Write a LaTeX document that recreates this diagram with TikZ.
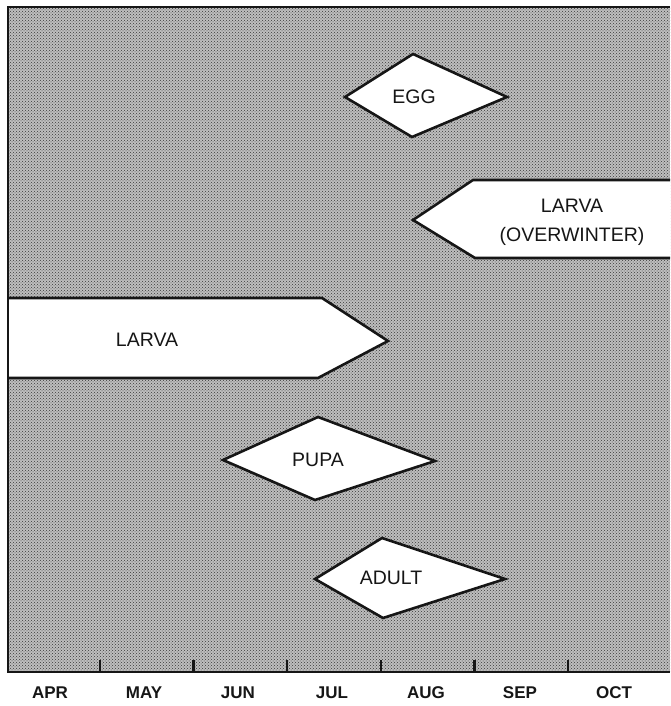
\documentclass[tikz,border=0pt]{standalone}
\usepackage{fontspec}
\setmainfont{Liberation Sans}
\usetikzlibrary{patterns}
\definecolor{paper}{RGB}{190,190,190}
\definecolor{ink}{RGB}{22,22,22}

\begin{document}
\begin{tikzpicture}[x=1pt,y=-1pt,
	stage/.style={draw=ink,fill=white,line width=2.6pt,line join=miter},
	lab/.style={color=ink,font=\fontsize{19.5}{29}\selectfont},
	month/.style={color=ink,font=\bfseries\fontsize{17}{20}\selectfont}]
	\useasboundingbox (0,0) rectangle (670,706);
	\fill[color=paper] (8,7) rectangle (670,672);
	\fill[pattern=crosshatch dots,pattern color=ink!85] (8,7) rectangle (670,672);
	
	\draw[stage] (345,97) -- (413,54) -- (507,97) -- (412,137) -- cycle;
	\node[lab] (egg) at (414,97) {EGG};
	
	\draw[stage] (670,180) -- (473,180) -- (413,220) -- (475,258) -- (670,258);
	\node[lab,align=center] (larvaow) at (572,222) {LARVA\\(OVERWINTER)};
	
	\draw[stage] (8,298) -- (322,298) -- (388,341) -- (318,378) -- (8,378);
	\node[lab] (larva) at (147,340) {LARVA};
	
	\draw[stage] (223,460) -- (318,417) -- (435,461) -- (315,500) -- cycle;
	\node[lab] (pupa) at (318,460) {PUPA};
	
	\draw[stage] (315,579) -- (382,538) -- (505,579) -- (383,618) -- cycle;
	\node[lab] (adult) at (391,578) {ADULT};
	
	\draw[color=ink,line width=2.8pt] (670,7) -- (8,7) -- (8,672) -- (670,672);
	\foreach \i in {1,...,6}
		\draw[color=ink,line width=2.2pt] (6+93.7*\i,672) -- (6+93.7*\i,660);
	\foreach \m [count=\i] in {APR,MAY,JUN,JUL,AUG,SEP,OCT}
		\node[month] (m-\m) at (-44+94*\i,693) {\m};
\end{tikzpicture}
\end{document}
